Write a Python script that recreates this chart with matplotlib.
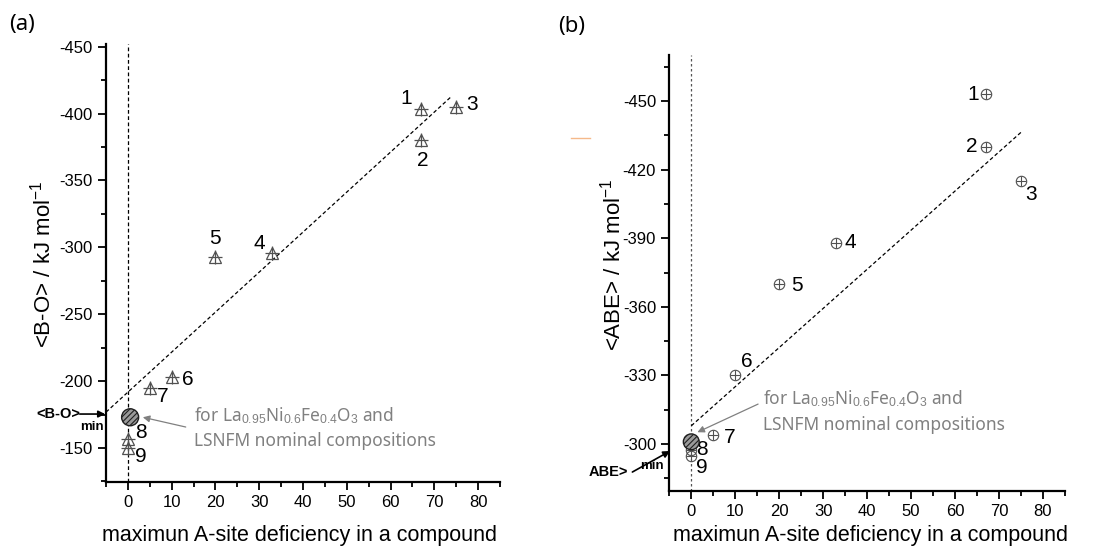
import numpy as np
import matplotlib
matplotlib.use("Agg")
import matplotlib.pyplot as plt
from matplotlib.lines import Line2D

plt.rcParams['font.family'] = ['Liberation Sans', 'DejaVu Sans']
plt.rcParams['mathtext.fontset'] = 'custom'
plt.rcParams['mathtext.rm'] = 'Liberation Sans'
plt.rcParams['mathtext.it'] = 'Liberation Sans:italic'
plt.rcParams['hatch.linewidth'] = 0.8
plt.rcParams['axes.unicode_minus'] = False

# data
labels = ['1', '2', '3', '4', '5', '6', '7', '8', '9']
deficiency = [67, 67, 75, 33, 20, 10, 5, 0, 0]
bo = [-403, -380, -405, -296, -293, -203, -195, -157, -150]
abe = [-453, -430, -415, -388, -370, -330, -304, -297.5, -295]

# nominal composition (hatched circle)
nominal_x = [0.5, 0.0]
nominal_bo = -173
nominal_abe = -301
bo_min = -175.4
abe_min = -297

# dashed trend lines: slope, intercept, x range
fit_bo = (-2.99, -191.8, -5, 74)
fit_abe = (-1.71, -308.0, 0, 75)

# label offsets in pixels (dx, dy)
off_a = [(-15, 11), (2, -20), (16, 2), (-13, 9), (-1, 18), (16, -2), (13, -9), (13, 6), (13, -8)]
off_b = [(-13, 0), (-14, 0), (10, -14), (14, 0), (18, -2), (12, 14), (16, -3), (11, 0), (11, -12)]

note = 'for La$_{0.95}$Ni$_{0.6}$Fe$_{0.4}$O$_3$ and\nLSNFM nominal compositions'
GRAY = '#808080'
MK = '#505050'

fig = plt.figure(figsize=(10.99, 5.49), dpi=100)
ax1 = fig.add_axes([0.0965, 0.122, 0.3585, 0.798])
ax2 = fig.add_axes([0.609, 0.1056, 0.360, 0.794])


def style(ax):
    for s in ['top', 'right']:
        ax.spines[s].set_visible(False)
    for s in ['left', 'bottom']:
        ax.spines[s].set_linewidth(1.6)
    ax.tick_params(which='major', direction='out', length=6, width=1.3, labelsize=12)
    ax.tick_params(which='minor', direction='out', length=3.5, width=1.3)
    ax.set_xlim(-5, 85)
    ax.set_xticks(np.arange(0, 81, 10))
    ax.set_xticks(np.arange(-5, 86, 10), minor=True)


def labels_setup(ax, ylabel, xl, yl):
    ax.set_xlabel('maximun A-site deficiency in a compound', fontsize=15.5)
    ax.xaxis.label.set_va('center')
    ax.xaxis.set_label_coords(*xl)
    ax.set_ylabel(ylabel, fontsize=16)
    ax.yaxis.label.set_va('center')
    ax.yaxis.set_label_coords(*yl)


# ---- (a) ----
ax = ax1
style(ax)
ax.set_ylim(-124.6, -452)
ax.set_yticks(np.arange(-450, -149, 50))
ax.set_yticks(np.arange(-425, -124, 50), minor=True)
ax.axvline(0, color='black', ls=(0, (3, 2)), lw=0.9)
xs = np.array(fit_bo[2:])
ax.plot(xs, fit_bo[0] * xs + fit_bo[1], color='black', ls=(0, (3, 2)), lw=0.9)
ax.plot(deficiency, bo, ls='none', marker='^', ms=9, mfc='none', mec=MK, mew=0.9)
ax.plot(deficiency, bo, ls='none', marker='+', ms=10, mec=MK, mew=0.9)
ax.scatter([nominal_x[0]], [nominal_bo], s=150, facecolor='#9a9a9a', edgecolor='#202020',
           hatch='//////', lw=1, zorder=5)
for lab, x, y, o in zip(labels, deficiency, bo, off_a):
    ax.annotate(lab, (x, y), xytext=o, textcoords='offset pixels', ha='center', va='center',
                fontsize=15)
ax.text(15, -165.3, note, fontsize=12.5, color=GRAY, family='Noto Sans',
        ha='left', va='center', linespacing=1.45)
ax.annotate('', xy=(3.4, -173), xytext=(13.2, -165.7),
            arrowprops=dict(arrowstyle='-|>', color=GRAY, lw=0.9, shrinkA=0, shrinkB=0,
                            mutation_scale=10))
ax.text(-11.0, bo_min, '<B-O>', fontsize=10.5, fontweight='bold', ha='right', va='center',
        clip_on=False)
ax.annotate('', xy=(-5.2, bo_min), xytext=(-11.0, bo_min), annotation_clip=False,
            arrowprops=dict(arrowstyle='-|>', color='black', lw=1.2, shrinkA=0, shrinkB=0,
                            mutation_scale=10))
ax.text(-5.6, bo_min + 9.5, 'min', fontsize=9.5, fontweight='bold', ha='right', va='center')
labels_setup(ax, '<B-O> / kJ mol$^{-1}$', (0.492, -0.121), (-0.16, 0.498))

# ---- (b) ----
ax = ax2
style(ax)
ax.set_ylim(-279.5, -470)
ax.set_yticks(np.arange(-450, -299, 30))
ax.set_yticks(np.arange(-465, -279, 30), minor=True)
ax.axvline(0, color='#555555', ls=(0, (2, 2)), lw=0.9)
xs = np.array(fit_abe[2:])
ax.plot(xs, fit_abe[0] * xs + fit_abe[1], color='black', ls=(0, (3, 2)), lw=0.9)
ax.plot(deficiency, abe, ls='none', marker='o', ms=7.5, mfc='none', mec=MK, mew=0.8)
ax.plot(deficiency, abe, ls='none', marker='+', ms=7.5, mec=MK, mew=0.8)
ax.scatter([nominal_x[1]], [nominal_abe], s=130, facecolor='#9a9a9a', edgecolor='#202020',
           hatch='//////', lw=1, zorder=5)
for lab, x, y, o in zip(labels, deficiency, abe, off_b):
    ax.annotate(lab, (x, y), xytext=o, textcoords='offset pixels', ha='center', va='center',
                fontsize=15)
ax.text(16.4, -314.4, note, fontsize=12.5, color=GRAY, family='Noto Sans',
        ha='left', va='center', linespacing=1.45)
ax.annotate('', xy=(1.4, -305.2), xytext=(15.2, -317.5),
            arrowprops=dict(arrowstyle='-|>', color=GRAY, lw=0.9, shrinkA=0, shrinkB=0,
                            mutation_scale=10))
ax.text(-23.4, -287.8, 'ABE>', fontsize=10.5, fontweight='bold', ha='left', va='center',
        clip_on=False)
ax.annotate('', xy=(-4.8, abe_min), xytext=(-13.4, -287.8), annotation_clip=False,
            arrowprops=dict(arrowstyle='-|>', color='black', lw=1.2, shrinkA=0, shrinkB=0,
                            mutation_scale=10))
ax.text(-6.3, -290.5, 'min', fontsize=9.5, fontweight='bold', ha='right', va='center')
labels_setup(ax, '<ABE> / kJ mol$^{-1}$', (0.508, -0.101), (-0.144, 0.52))

fig.text(0.02, 0.955, '(a)', fontsize=16, family='Noto Sans', ha='center', va='center')
fig.text(0.52, 0.952, '(b)', fontsize=16, family='Noto Sans', ha='center', va='center')
fig.add_artist(Line2D([0.52, 0.537], [0.749, 0.749], color='#f5b98a', lw=1))

fig.savefig('out.png', dpi=100)
